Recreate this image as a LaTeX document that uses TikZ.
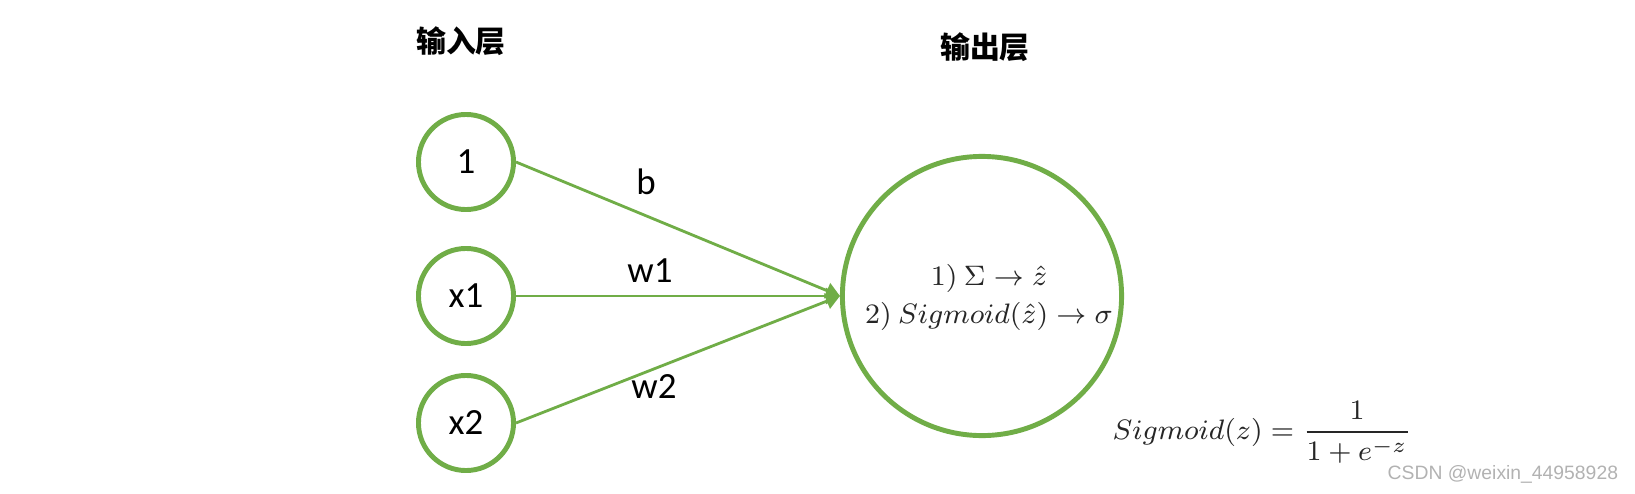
\documentclass[tikz,border=0pt]{standalone}
\usepackage[no-math]{fontspec}
\setmainfont{Carlito}
\newfontfamily\cjk{Noto Sans CJK SC}
\newfontfamily\wmfont{Liberation Sans}
\usetikzlibrary{arrows.meta}
\definecolor{lineg}{RGB}{112,173,71}
\begin{document}
\begin{tikzpicture}[x=0.01cm,y=-0.01cm,
  inode/.style={circle,draw=lineg,line width=1.4pt,minimum size=0.95cm,inner sep=0pt,font=\fontsize{10.5}{12}\selectfont},
  onode/.style={circle,draw=lineg,line width=1.4pt,minimum size=2.79cm,inner sep=0pt},
  conn/.style={draw=lineg,line width=0.8pt,-{Triangle[length=0.14cm,width=0.16cm]}},
  wlabel/.style={font=\fontsize{10.5}{12}\selectfont,inner sep=0pt},
  title/.style={font=\cjk\bfseries\fontsize{8.5}{10}\selectfont,inner sep=0pt},
  mathtxt/.style={text=black!85,inner sep=0pt}]
\useasboundingbox (0,0) rectangle (1635,494);
\node[title] (tin) at (461,41) {输入层};
\node[title] (tout) at (985,47) {输出层};
\node[inode] (n1) at (466,162) {1};
\node[inode] (nx1) at (466,296) {x1};
\node[inode] (nx2) at (466,423) {x2};
\node[onode] (out) at (982,296) {};
\draw[conn] (n1.east) -- (out.west);
\draw[conn] (nx1.east) -- (out.west);
\draw[conn] (nx2.east) -- (out.west);
\node[wlabel] (lb) at (646,182) {b};
\node[wlabel] (lw1) at (650,271) {w1};
\node[wlabel] (lw2) at (654,387) {w2};
\node[mathtxt,align=center,font=\fontsize{8.1}{10.8}\selectfont] (m) at (989,297) {$1)\ \Sigma \to \hat{z}$\\$2)\ Sigmoid(\hat{z}) \to \sigma$};
\node[mathtxt,anchor=base west,font=\fontsize{8.5}{10}\selectfont] (sig) at (1112,439) {$\displaystyle Sigmoid(z)=\frac{1}{1+e^{-z}}$};
\node[anchor=base west,inner sep=0pt,text=black!30,font=\wmfont\fontsize{5.5}{6}\selectfont] (wm) at (1387,479) {CSDN @weixin\_44958928};
\end{tikzpicture}
\end{document}
